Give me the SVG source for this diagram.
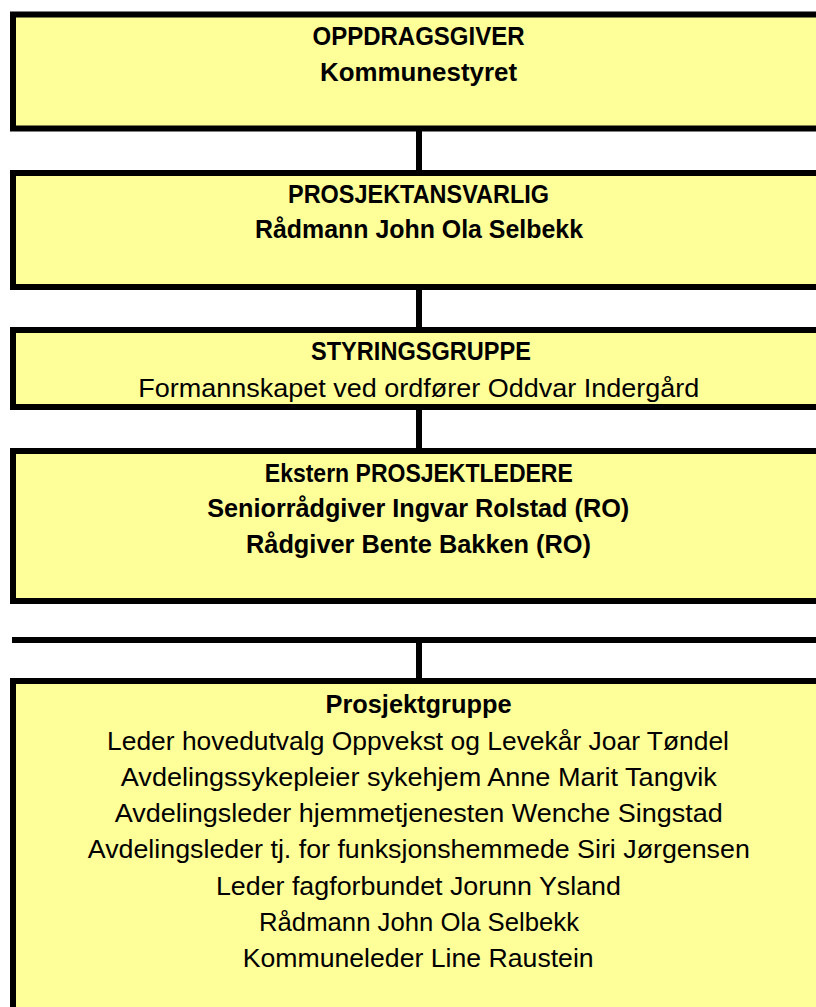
<svg xmlns="http://www.w3.org/2000/svg" width="816" height="1007" viewBox="0 0 816 1007">
<style>
.box{fill:#FFFF99;stroke:#000;stroke-width:6}
.con{stroke:#000;stroke-width:6;fill:none}
text{font-family:"Liberation Sans",Arial,sans-serif;font-size:26px;fill:#000;text-anchor:middle}
.b{font-weight:bold}
</style>
<rect width="816" height="1007" fill="#fff"/>
<g id="connectors">
<line class="con" x1="419" y1="131" x2="419" y2="171"/>
<line class="con" x1="419" y1="289" x2="419" y2="328"/>
<line class="con" x1="419" y1="409" x2="419" y2="449"/>
<line class="con" x1="12" y1="640" x2="830" y2="640"/>
<line class="con" x1="419" y1="642" x2="419" y2="679"/>
</g>
<g id="oppdragsgiver">
<rect class="box" x="13" y="14.5" width="830" height="114"/>
<text class="b" x="418.5" y="45" textLength="212" lengthAdjust="spacingAndGlyphs">OPPDRAGSGIVER</text>
<text class="b" x="418.5" y="81" textLength="197" lengthAdjust="spacingAndGlyphs">Kommunestyret</text>
</g>
<g id="prosjektansvarlig">
<rect class="box" x="13" y="173" width="830" height="114"/>
<text class="b" x="418.5" y="203" textLength="261" lengthAdjust="spacingAndGlyphs">PROSJEKTANSVARLIG</text>
<text class="b" x="419" y="238" textLength="328" lengthAdjust="spacingAndGlyphs">Rådmann John Ola Selbekk</text>
</g>
<g id="styringsgruppe">
<rect class="box" x="13" y="330" width="830" height="77"/>
<text class="b" x="421" y="360" textLength="220" lengthAdjust="spacingAndGlyphs">STYRINGSGRUPPE</text>
<text x="418.7" y="397" textLength="561" lengthAdjust="spacingAndGlyphs">Formannskapet ved ordfører Oddvar Indergård</text>
</g>
<g id="prosjektledere">
<rect class="box" x="13" y="451" width="830" height="150"/>
<text class="b" x="418.8" y="482" textLength="308" lengthAdjust="spacingAndGlyphs">Ekstern PROSJEKTLEDERE</text>
<text class="b" x="418.2" y="517" textLength="422" lengthAdjust="spacingAndGlyphs">Seniorrådgiver Ingvar Rolstad (RO)</text>
<text class="b" x="418.5" y="553" textLength="345" lengthAdjust="spacingAndGlyphs">Rådgiver Bente Bakken (RO)</text>
</g>
<g id="prosjektgruppe">
<rect class="box" x="13" y="681" width="830" height="400"/>
<text class="b" x="418.5" y="713" textLength="186" lengthAdjust="spacingAndGlyphs">Prosjektgruppe</text>
<text x="418" y="750" textLength="622" lengthAdjust="spacingAndGlyphs">Leder hovedutvalg Oppvekst og Levekår Joar Tøndel</text>
<text x="418.8" y="786" textLength="596" lengthAdjust="spacingAndGlyphs">Avdelingssykepleier sykehjem Anne Marit Tangvik</text>
<text x="418.8" y="822" textLength="608" lengthAdjust="spacingAndGlyphs">Avdelingsleder hjemmetjenesten Wenche Singstad</text>
<text x="418.8" y="858" textLength="662" lengthAdjust="spacingAndGlyphs">Avdelingsleder tj. for funksjonshemmede Siri Jørgensen</text>
<text x="418.4" y="895" textLength="405" lengthAdjust="spacingAndGlyphs">Leder fagforbundet Jorunn Ysland</text>
<text x="419" y="931" textLength="320" lengthAdjust="spacingAndGlyphs">Rådmann John Ola Selbekk</text>
<text x="418.2" y="967" textLength="351" lengthAdjust="spacingAndGlyphs">Kommuneleder Line Raustein</text>
</g>
</svg>
